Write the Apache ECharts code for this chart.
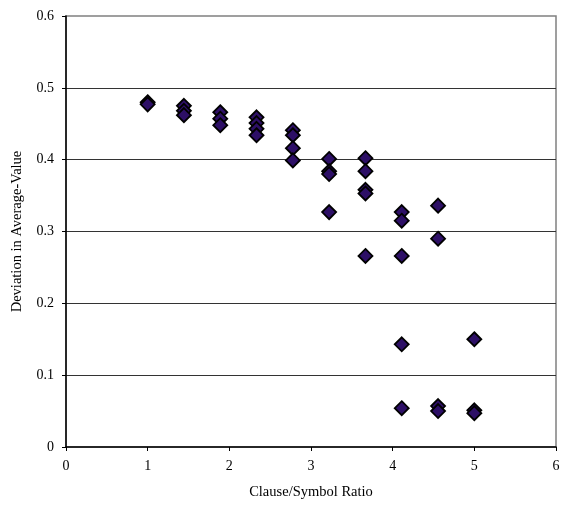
<!DOCTYPE html>
<html>
<head>
<meta charset="utf-8">
<title>Clause/Symbol Ratio scatter</title>
<script src="https://cdn.jsdelivr.net/npm/echarts@6/dist/echarts.min.js"></script>
<style>
  body { margin: 0; padding: 0; background: #fff; }
  #chart { width: 566px; height: 506px; }
</style>
</head>
<body>
<div id="chart"></div>
<script>
// clause/symbol ratio for each column of points
var ratios = [1, 1.444, 1.889, 2.333, 2.778, 3.222, 3.667, 4.111, 4.556, 5];
// deviation values, one list per ratio
var deviations = [
    [0.480, 0.477],
    [0.475, 0.468, 0.462],
    [0.466, 0.457, 0.448],
    [0.459, 0.451, 0.443, 0.434],
    [0.441, 0.434, 0.416, 0.399],
    [0.401, 0.384, 0.380, 0.327],
    [0.402, 0.384, 0.358, 0.353, 0.266],
    [0.327, 0.315, 0.266, 0.143, 0.054],
    [0.336, 0.290, 0.057, 0.050],
    [0.150, 0.051, 0.047]
];
var xTicks = [0, 1, 2, 3, 4, 5, 6];
var yTicks = [0, 0.1, 0.2, 0.3, 0.4, 0.5, 0.6];

var points = [];
for (var i = 0; i < ratios.length; i++) {
    for (var j = 0; j < deviations[i].length; j++) {
        points.push([ratios[i], deviations[i][j]]);
    }
}

var font = '"Liberation Serif", "Times New Roman", serif';
var chart = echarts.init(document.getElementById('chart'));
chart.setOption({
    animation: false,
    grid: {
        left: 66, right: 10, top: 16, bottom: 59,
        show: true, borderColor: '#808080', borderWidth: 1.5
    },
    xAxis: {
        type: 'value',
        min: xTicks[0], max: xTicks[xTicks.length - 1], interval: 1,
        name: 'Clause/Symbol Ratio',
        nameLocation: 'middle', nameGap: 38,
        nameTextStyle: { fontFamily: font, fontSize: 14.5, color: '#000' },
        axisLine: { lineStyle: { color: '#000', width: 1.5 } },
        axisTick: { show: true, length: 4, lineStyle: { color: '#000' } },
        axisLabel: { fontFamily: font, fontSize: 14, color: '#000', margin: 12 },
        splitLine: { show: false }
    },
    yAxis: {
        type: 'value',
        min: yTicks[0], max: yTicks[yTicks.length - 1], interval: 0.1,
        name: 'Deviation in Average-Value',
        nameLocation: 'middle', nameGap: 41,
        nameTextStyle: { fontFamily: font, fontSize: 14.5, color: '#000' },
        axisLine: { show: true, lineStyle: { color: '#000', width: 1.5 } },
        axisTick: { show: true, length: 4, lineStyle: { color: '#000' } },
        axisLabel: { fontFamily: font, fontSize: 14, color: '#000', margin: 12 },
        splitLine: { show: true, showMinLine: false, showMaxLine: false, lineStyle: { color: '#333', width: 1 } }
    },
    series: [{
        type: 'scatter',
        symbol: 'diamond',
        symbolSize: 14,
        itemStyle: { color: '#2d0f66', borderColor: '#000', borderWidth: 1.8, opacity: 1 },
        data: points
    }]
});
</script>
</body>
</html>
